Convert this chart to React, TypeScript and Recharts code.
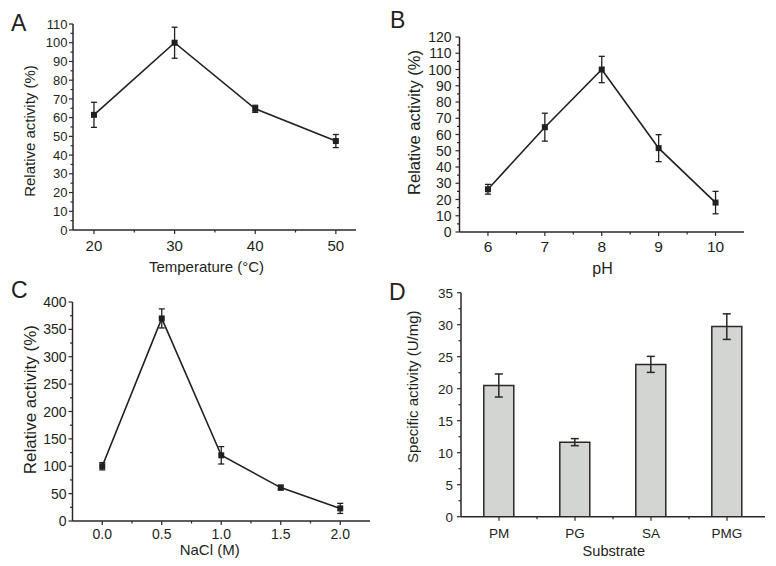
import { Bar, BarChart, ErrorBar, Line, LineChart, XAxis, YAxis } from "recharts"

const INK = "#231f20"
const AXIS = "#2e2626"
const BAR_FILL = "#d3d5d3"
const FONT = '"Liberation Sans", Arial, sans-serif'
const Y_AXIS_W = 40
const X_AXIS_H = 30

// A: temperature
const tempC = [20, 30, 40, 50]
const tempActivity = [61.5, 100, 64.7, 47.5]
const tempErr = [6.7, 8.3, 1.9, 3.5]
const tempXTicks = [20, 25, 30, 35, 40, 45, 50]
const tempXLabels = [20, 30, 40, 50]
const tempYTicks = [0, 5, 10, 15, 20, 25, 30, 35, 40, 45, 50, 55, 60, 65, 70, 75, 80, 85, 90, 95, 100, 105, 110]
const tempYLabels = [0, 10, 20, 30, 40, 50, 60, 70, 80, 90, 100, 110]

// B: pH
const phValues = [6, 7, 8, 9, 10]
const phActivity = [26.3, 64.5, 100, 51.6, 18.1]
const phErr = [3, 8.6, 8.1, 8.3, 6.9]
const phXTicks = [6, 6.5, 7, 7.5, 8, 8.5, 9, 9.5, 10]
const phXLabels = [6, 7, 8, 9, 10]
const phYTicks = [0, 5, 10, 15, 20, 25, 30, 35, 40, 45, 50, 55, 60, 65, 70, 75, 80, 85, 90, 95, 100, 105, 110, 115, 120]
const phYLabels = [0, 10, 20, 30, 40, 50, 60, 70, 80, 90, 100, 110, 120]

// C: NaCl
const naclM = [0, 0.5, 1, 1.5, 2]
const naclActivity = [100, 370, 120, 61, 23]
const naclErr = [6.7, 17.4, 15.9, 4.4, 9.2]
const naclXTicks = [0, 0.25, 0.5, 0.75, 1, 1.25, 1.5, 1.75, 2]
const naclXLabels = [0, 0.5, 1, 1.5, 2]
const naclYTicks = [0, 25, 50, 75, 100, 125, 150, 175, 200, 225, 250, 275, 300, 325, 350, 375, 400]
const naclYLabels = [0, 50, 100, 150, 200, 250, 300, 350, 400]

// D: substrates
const substrates = ["PM", "PG", "SA", "PMG"]
const specificActivity = [20.5, 11.65, 23.8, 29.7]
const specificErr = [1.8, 0.55, 1.25, 2]
const substrateYTicks = [0, 2.5, 5, 7.5, 10, 12.5, 15, 17.5, 20, 22.5, 25, 27.5, 30, 32.5, 35]
const substrateYLabels = [0, 5, 10, 15, 20, 25, 30, 35]

const toPoints = (xs: number[], ys: number[], errs: number[]) =>
  xs.map((x, i) => ({ x, y: ys[i], err: errs[i] }))

function yTick(labels: number[], fontSize: number, gap: number) {
  return (props: any) => {
    const { x, y, payload } = props
    const major = labels.includes(payload.value)
    return (
      <g>
        <line x1={x} y1={y} x2={x - (major ? 4 : 2.5)} y2={y} stroke={AXIS} strokeWidth={1.2} />
        {major && (
          <text x={x - gap} y={y} dy="0.36em" textAnchor="end" fontSize={fontSize} fontFamily={FONT} fill={INK}>
            {payload.value}
          </text>
        )}
      </g>
    )
  }
}

function xTick(labels: (number | string)[], fontSize: number, offset: number, fmt = (v: any) => String(v)) {
  return (props: any) => {
    const { x, y, payload } = props
    const major = labels.includes(payload.value)
    return (
      <g>
        <line x1={x} y1={y} x2={x} y2={y + (major ? 4 : 2.5)} stroke={AXIS} strokeWidth={1.2} />
        {major && (
          <text x={x} y={y + offset} textAnchor="middle" fontSize={fontSize} fontFamily={FONT} fill={INK}>
            {fmt(payload.value)}
          </text>
        )}
      </g>
    )
  }
}

// category ticks with a short mark on the boundary to the next band
function bandTick(fontSize: number, offset: number) {
  return (props: any) => {
    const { x, y, payload, index, width, visibleTicksCount } = props
    const band = width / visibleTicksCount
    return (
      <g>
        <line x1={x} y1={y} x2={x} y2={y + 4} stroke={AXIS} strokeWidth={1.2} />
        {index < visibleTicksCount - 1 && (
          <line x1={x + band / 2} y1={y} x2={x + band / 2} y2={y + 2.5} stroke={AXIS} strokeWidth={1.2} />
        )}
        <text x={x} y={y + offset} textAnchor="middle" fontSize={fontSize} fontFamily={FONT} fill={INK}>
          {payload.value}
        </text>
      </g>
    )
  }
}

const squareDot = (props: any) => {
  const { cx, cy, index } = props
  return <rect key={`sq-${index}`} x={cx - 3} y={cy - 3} width={6} height={6} fill={INK} />
}

interface CurvePanelProps {
  data: { x: number; y: number; err: number }[]
  left: number
  top: number
  width: number
  height: number
  plot: { top: number; right: number; bottom: number; left: number }
  xDomain: [number, number]
  xTicks: number[]
  xLabels: number[]
  xFont: number
  xOffset: number
  xFormat?: (v: any) => string
  yDomain: [number, number]
  yTicks: number[]
  yLabels: number[]
  yFont: number
  yGap: number
}

function CurvePanel(p: CurvePanelProps) {
  const margin = {
    top: p.plot.top,
    right: p.plot.right,
    left: p.plot.left - Y_AXIS_W,
    bottom: p.plot.bottom - X_AXIS_H,
  }
  return (
    <div style={{ position: "absolute", left: p.left, top: p.top }}>
      <LineChart width={p.width} height={p.height} data={p.data} margin={margin}>
        <XAxis
          dataKey="x"
          type="number"
          domain={p.xDomain}
          allowDataOverflow
          ticks={p.xTicks}
          interval={0}
          height={X_AXIS_H}
          tickSize={0}
          tickMargin={0}
          tickLine={false}
          axisLine={{ stroke: AXIS, strokeWidth: 1.5 }}
          tick={xTick(p.xLabels, p.xFont, p.xOffset, p.xFormat)}
        />
        <YAxis
          type="number"
          domain={p.yDomain}
          allowDataOverflow
          ticks={p.yTicks}
          interval={0}
          width={Y_AXIS_W}
          tickSize={0}
          tickMargin={0}
          tickLine={false}
          axisLine={{ stroke: AXIS, strokeWidth: 1.5 }}
          tick={yTick(p.yLabels, p.yFont, p.yGap)}
        />
        <Line
          dataKey="y"
          type="linear"
          stroke={INK}
          strokeWidth={1.6}
          dot={squareDot}
          activeDot={false}
          isAnimationActive={false}
        >
          <ErrorBar dataKey="err" direction="y" width={3} stroke={INK} strokeWidth={1.3} isAnimationActive={false} />
        </Line>
      </LineChart>
    </div>
  )
}

export default function App() {
  const substrateData = substrates.map((name, i) => ({
    name,
    value: specificActivity[i],
    err: specificErr[i],
  }))

  return (
    <div
      style={{
        position: "absolute",
        left: 0,
        top: 0,
        width: 776,
        height: 566,
        background: "#fff",
        fontFamily: FONT,
        overflow: "hidden",
      }}
    >
      <CurvePanel
        data={toPoints(tempC, tempActivity, tempErr)}
        left={0}
        top={0}
        width={388}
        height={280}
        plot={{ top: 24, right: 32, bottom: 50, left: 73 }}
        xDomain={[17.4, 52.5]}
        xTicks={tempXTicks}
        xLabels={tempXLabels}
        xFont={15}
        xOffset={20.5}
        yDomain={[0, 110]}
        yTicks={tempYTicks}
        yLabels={tempYLabels}
        yFont={13}
        yGap={5.5}
      />
      <CurvePanel
        data={toPoints(phValues, phActivity, phErr)}
        left={388}
        top={0}
        width={388}
        height={280}
        plot={{ top: 37, right: 32, bottom: 48, left: 71.5 }}
        xDomain={[5.5, 10.5]}
        xTicks={phXTicks}
        xLabels={phXLabels}
        xFont={15.5}
        xOffset={20}
        yDomain={[0, 120]}
        yTicks={phYTicks}
        yLabels={phYLabels}
        yFont={14}
        yGap={8}
      />
      <CurvePanel
        data={toPoints(naclM, naclActivity, naclErr)}
        left={0}
        top={280}
        width={388}
        height={286}
        plot={{ top: 22, right: 18, bottom: 45, left: 72.5 }}
        xDomain={[-0.25, 2.25]}
        xTicks={naclXTicks}
        xLabels={naclXLabels}
        xFont={14}
        xOffset={17.5}
        xFormat={(v) => Number(v).toFixed(1)}
        yDomain={[0, 400]}
        yTicks={naclYTicks}
        yLabels={naclYLabels}
        yFont={14}
        yGap={6}
      />
      <div style={{ position: "absolute", left: 388, top: 280 }}>
        <BarChart
          width={388}
          height={286}
          data={substrateData}
          margin={{ top: 12.7, right: 11, bottom: 49.3 - X_AXIS_H, left: 73 - Y_AXIS_W }}
          barCategoryGap="30%"
        >
          <XAxis
            dataKey="name"
            type="category"
            height={X_AXIS_H}
            tickSize={0}
            tickMargin={0}
            tickLine={false}
            interval={0}
            axisLine={{ stroke: AXIS, strokeWidth: 1.5 }}
            tick={bandTick(13.5, 21.5)}
          />
          <YAxis
            type="number"
            domain={[0, 35]}
            allowDataOverflow
            ticks={substrateYTicks}
            interval={0}
            width={Y_AXIS_W}
            tickSize={0}
            tickMargin={0}
            tickLine={false}
            axisLine={{ stroke: AXIS, strokeWidth: 1.5 }}
            tick={yTick(substrateYLabels, 13.5, 8)}
          />
          <Bar dataKey="value" fill={BAR_FILL} stroke={AXIS} strokeWidth={1.5} isAnimationActive={false}>
            <ErrorBar dataKey="err" direction="y" width={4} stroke={AXIS} strokeWidth={1.5} isAnimationActive={false} />
          </Bar>
        </BarChart>
      </div>

      <svg
        width={776}
        height={566}
        style={{ position: "absolute", left: 0, top: 0, pointerEvents: "none" }}
        fontFamily={FONT}
        fill={INK}
      >
        <text x={11} y={31} fontSize={23}>A</text>
        <text x={390} y={28} fontSize={23}>B</text>
        <text x={11} y={298} fontSize={23}>C</text>
        <text x={389} y={300} fontSize={23}>D</text>

        <text transform="translate(30,131) rotate(-90)" dy="0.36em" textAnchor="middle" fontSize={15}>
          Relative activity (%)
        </text>
        <text x={206.5} y={272} textAnchor="middle" fontSize={15}>Temperature (°C)</text>

        <text transform="translate(414.5,122.5) rotate(-90)" dy="0.36em" textAnchor="middle" fontSize={16.5}>
          Relative activity (%)
        </text>
        <text x={602.5} y={273.5} textAnchor="middle" fontSize={16}>pH</text>

        <text transform="translate(29.7,399.7) rotate(-90)" dy="0.36em" textAnchor="middle" fontSize={17}>
          Relative activity (%)
        </text>
        <text x={209.7} y={555} textAnchor="middle" fontSize={15}>NaCl (M)</text>

        <text transform="translate(413,386.7) rotate(-90)" dy="0.36em" textAnchor="middle" fontSize={15}>
          Specific activity (U/mg)
        </text>
        <text x={613.8} y={555.7} textAnchor="middle" fontSize={14.6}>Substrate</text>
      </svg>
    </div>
  )
}
